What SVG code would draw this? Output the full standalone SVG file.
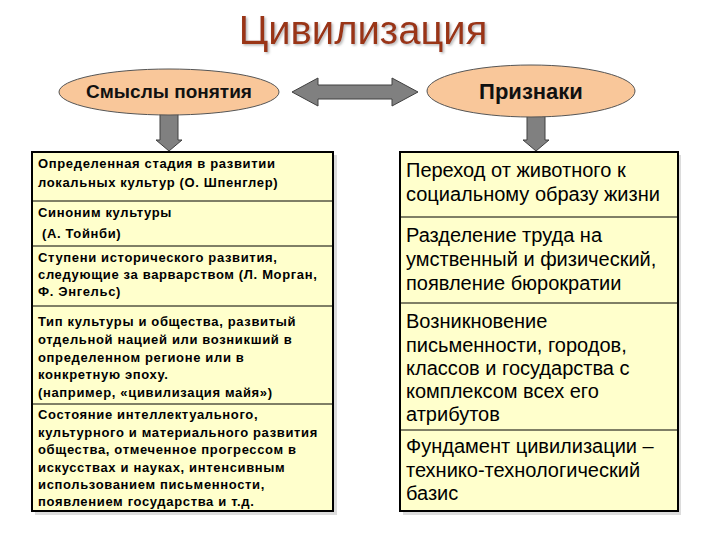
<svg xmlns="http://www.w3.org/2000/svg" width="720" height="540" viewBox="0 0 720 540">
<defs>
<filter id="ts" x="-5%" y="-20%" width="110%" height="140%">
<feDropShadow dx="1.5" dy="1.5" stdDeviation="0.8" flood-color="#999" flood-opacity="0.7"/>
</filter>
<style>
.title{font-family:"Liberation Sans",Arial,sans-serif;font-size:40px;fill:#9a3412;}
.oval{fill:#f9c79a;stroke:#555;stroke-width:1;}
.ovtext{font-family:"Liberation Sans",Arial,sans-serif;font-weight:bold;fill:#111;text-anchor:middle;}
.box{fill:#ffffcc;stroke:#000;stroke-width:2;}
.shadow{fill:#dcdcdc;}
.div{stroke:#000;stroke-width:1;}
.lt{font-family:"Liberation Sans",Arial,sans-serif;font-weight:bold;font-size:13px;fill:#000;letter-spacing:0.65px;}
.rt{font-family:"Liberation Sans",Arial,sans-serif;font-size:20px;fill:#000;}
.arr{fill:#808080;stroke:#404040;stroke-width:1;}
</style>
</defs>
<rect width="720" height="540" fill="#fff"/>
<g id="title">
<text class="title" x="363" y="44" text-anchor="middle" filter="url(#ts)">Цивилизация</text>
</g>
<g id="connectors">
<path class="arr" d="M292,92 L318,78 L318,85 L392,85 L392,78 L418,92 L392,106 L392,99 L318,99 L318,106 Z"/>
<path class="arr" d="M160,114 L178,114 L178,140 L182,140 L169,151 L156,140 L160,140 Z"/>
<path class="arr" d="M527,116 L545,116 L545,140 L549,140 L536,151 L523,140 L527,140 Z"/>
</g>
<g id="node-smysly">
<ellipse class="oval" cx="169" cy="92" rx="110" ry="23"/>
<text class="ovtext" x="169" y="98" font-size="19">Смыслы понятия</text>
</g>
<g id="node-priznaki">
<ellipse class="oval" cx="531" cy="91" rx="104" ry="26"/>
<text class="ovtext" x="531" y="99" font-size="22">Признаки</text>
</g>
<g id="node-left">
<rect class="shadow" x="35" y="155" width="302" height="360"/>
<rect class="box" x="32" y="152" width="301" height="359"/>
<line class="div" x1="32" y1="201" x2="333" y2="201"/>
<line class="div" x1="32" y1="246" x2="333" y2="246"/>
<line class="div" x1="32" y1="306" x2="333" y2="306"/>
<line class="div" x1="32" y1="404" x2="333" y2="404"/>
<text class="lt" x="38" y="168">Определенная стадия в развитии</text>
<text class="lt" x="38" y="187">локальных культур (О. Шпенглер)</text>
<text class="lt" x="38" y="217">Синоним культуры</text>
<text class="lt" x="42" y="238">(А. Тойнби)</text>
<text class="lt" x="38" y="262">Ступени исторического развития,</text>
<text class="lt" x="38" y="279">следующие за варварством (Л. Морган,</text>
<text class="lt" x="38" y="296">Ф. Энгельс)</text>
<text class="lt" x="38" y="326">Тип культуры и общества, развитый</text>
<text class="lt" x="38" y="344">отдельной нацией или возникший в</text>
<text class="lt" x="38" y="362">определенном регионе или в</text>
<text class="lt" x="38" y="379">конкретную эпоху.</text>
<text class="lt" x="38" y="397">(например, «цивилизация майя»)</text>
<text class="lt" x="38" y="419">Состояние интеллектуального,</text>
<text class="lt" x="38" y="437">культурного и материального развития</text>
<text class="lt" x="38" y="454">общества, отмеченное прогрессом в</text>
<text class="lt" x="38" y="472">искусствах и науках, интенсивным</text>
<text class="lt" x="38" y="489">использованием письменности,</text>
<text class="lt" x="38" y="506">появлением государства и т.д.</text>
</g>
<g id="node-right">
<rect class="shadow" x="403" y="155" width="278" height="360"/>
<rect class="box" x="400" y="152" width="278" height="359"/>
<line class="div" x1="400" y1="217" x2="678" y2="217"/>
<line class="div" x1="400" y1="303" x2="678" y2="303"/>
<line class="div" x1="400" y1="430" x2="678" y2="430"/>
<text class="rt" x="406" y="177">Переход от животного к</text>
<text class="rt" x="406" y="201">социальному образу жизни</text>
<text class="rt" x="406" y="242">Разделение труда на</text>
<text class="rt" x="406" y="266">умственный и физический,</text>
<text class="rt" x="406" y="290">появление бюрократии</text>
<text class="rt" x="406" y="328">Возникновение</text>
<text class="rt" x="406" y="352">письменности, городов,</text>
<text class="rt" x="406" y="375">классов и государства с</text>
<text class="rt" x="406" y="398">комплексом всех его</text>
<text class="rt" x="406" y="421">атрибутов</text>
<text class="rt" x="406" y="453">Фундамент цивилизации –</text>
<text class="rt" x="406" y="477">технико-технологический</text>
<text class="rt" x="406" y="500">базис</text>
</g>
</svg>
